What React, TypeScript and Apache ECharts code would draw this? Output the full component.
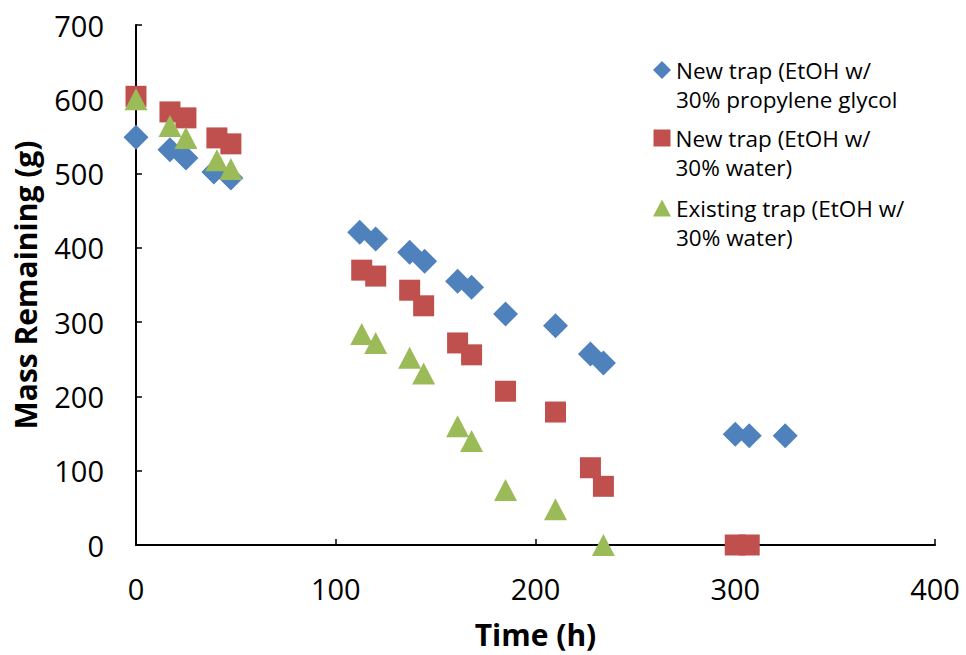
import React, { useEffect, useRef } from "react";
import * as echarts from "echarts";

const seriesNames = [
  "New trap (EtOH w/ 30% propylene glycol",
  "New trap (EtOH w/ 30% water)",
  "Existing trap (EtOH w/ 30% water)",
];
const legendLines = [
  ["New trap (EtOH w/", "30% propylene glycol"],
  ["New trap (EtOH w/", "30% water)"],
  ["Existing trap (EtOH w/", "30% water)"],
];
const seriesColors = ["#4F81BD", "#C0504D", "#9BBB59"];
const seriesSymbols = ["diamond", "rect", "triangle"];

const blueTime = [0, 17, 25, 39, 47.5, 112, 120, 137, 144.5, 161, 168, 185, 210, 227.5, 234, 300, 307, 325];
const blueMass = [549, 532, 521, 502, 494, 421, 412, 394, 382, 355, 347, 311, 295, 257, 245, 149, 147, 147];

const redTime = [0, 17, 25, 40.5, 47.5, 113, 120, 137, 144, 161, 168, 185, 210, 227.5, 234, 300, 307];
const redMass = [604, 583, 575, 548, 540, 370, 362, 343, 322, 272, 256, 207, 179, 104, 79, 0, 0];

const greenTime = [0, 17, 25, 40.5, 47.5, 113, 120, 137, 144, 161, 168, 185, 210, 234];
const greenMass = [600, 564, 548, 518, 506, 284, 272, 252, 231, 160, 140, 74, 48, 0];

const xTitle = "Time (h)";
const yTitle = "Mass Remaining (g)";

const FONT = "'Open Sans', 'Noto Sans', sans-serif";

export default function App() {
  const ref = useRef<HTMLDivElement>(null);
  useEffect(() => {
    if (!ref.current) return;
    const chart = echarts.init(ref.current, undefined, { renderer: "svg" });
    const pairs = [
      [blueTime, blueMass],
      [redTime, redMass],
      [greenTime, greenMass],
    ];
    const sizes: any[] = [[25, 25], [21, 21], [23, 22]];
    const legendIconSizes: any[] = [[18, 18], [17, 17], [18, 17]];
    const firstLineCenters = [70, 138, 208];
    const LH = 29;
    const option: any = {
      animation: false,
      backgroundColor: "#ffffff",
      textStyle: { fontFamily: FONT },
      grid: { left: 136, right: 31, top: 25, bottom: 110, containLabel: false },
      legend: seriesNames.map((n, i) => ({
        data: [{ name: n, icon: seriesSymbols[i] }],
        orient: "vertical",
        left: 662 - legendIconSizes[i][0] / 2,
        top: firstLineCenters[i] - (LH * 3) / 2,
        padding: 0,
        itemWidth: legendIconSizes[i][0],
        itemHeight: legendIconSizes[i][1],
        itemGap: 0,
        selectedMode: false,
        formatter: () => "\n" + legendLines[i].join("\n"),
        textStyle: {
          fontFamily: FONT,
          fontSize: 22.5,
          color: "#000",
          lineHeight: LH,
        },
      })),
      xAxis: {
        type: "value",
        min: 0,
        max: 400,
        interval: 100,
        name: xTitle,
        nameLocation: "middle",
        nameGap: 74,
        nameTextStyle: { fontFamily: FONT, fontSize: 30, fontWeight: "bold", color: "#000" },
        axisLine: { lineStyle: { color: "#000", width: 2 } },
        axisTick: { inside: true, length: 6, lineStyle: { color: "#000", width: 1.5 } },
        axisLabel: { fontFamily: FONT, fontSize: 29, color: "#000", margin: 29 },
        splitLine: { show: false },
      },
      yAxis: {
        type: "value",
        min: 0,
        max: 700,
        interval: 100,
        name: yTitle,
        nameLocation: "middle",
        nameGap: 96,
        nameTextStyle: { fontFamily: FONT, fontSize: 30, fontWeight: "bold", color: "#000" },
        axisLine: { show: true, lineStyle: { color: "#000", width: 2 } },
        axisTick: { show: true, inside: true, length: 6, lineStyle: { color: "#000", width: 1.5 } },
        axisLabel: { fontFamily: FONT, fontSize: 29, color: "#000", margin: 32 },
        splitLine: { show: false },
      },
      series: pairs.map((p, i) => ({
        name: seriesNames[i],
        type: "scatter",
        symbol: seriesSymbols[i],
        symbolSize: sizes[i],
        itemStyle: { color: seriesColors[i], opacity: 1 },
        data: p[0].map((x, k) => [x, p[1][k]]),
        clip: false,
      })),
    };
    chart.setOption(option);
    return () => chart.dispose();
  }, []);
  return (
    <div
      ref={ref}
      style={{ position: "absolute", left: 0, top: 0, width: 966, height: 655, background: "#fff" }}
    />
  );
}
